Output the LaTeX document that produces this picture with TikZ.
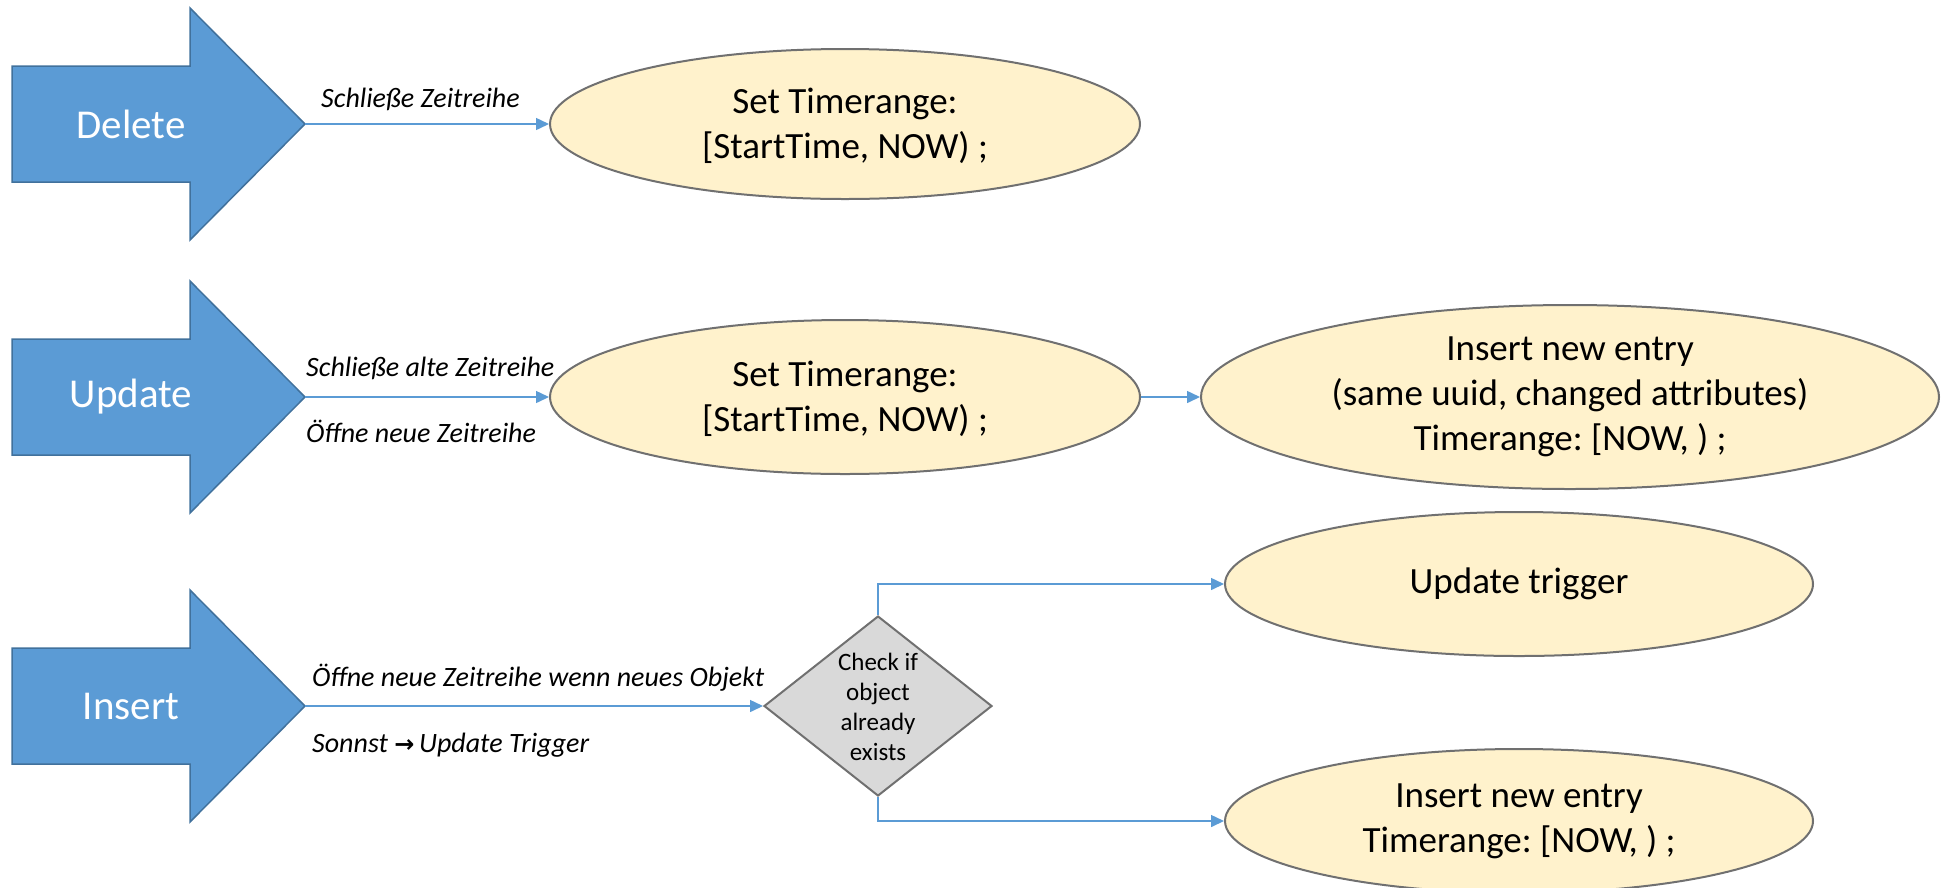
\documentclass[tikz,border=0pt]{standalone}
\usepackage{fontspec}
\setmainfont{Carlito}
\newfontfamily\symfont{DejaVu Sans}
\usetikzlibrary{shapes.geometric,arrows.meta}
\definecolor{bluefill}{HTML}{5B9BD5}
\definecolor{blueedge}{HTML}{41719C}
\definecolor{ellfill}{HTML}{FFF2CC}
\definecolor{grayedge}{HTML}{707070}
\definecolor{diafill}{HTML}{D9D9D9}
\definecolor{connblue}{HTML}{5B9BD5}
\frenchspacing
\begin{document}
\begin{tikzpicture}[x=1pt,y=-1pt,
  bigarrow/.style={fill=bluefill,draw=blueedge,line width=1.5pt,line join=miter},
  arrowtext/.style={text=white,inner sep=0pt,font=\fontsize{41}{49}\selectfont},
  ellbox/.style={ellipse,draw=grayedge,fill=ellfill,line width=2pt,inner sep=0pt},
  elltext/.style={align=center,inner sep=0pt,font=\fontsize{37}{45}\selectfont},
  lbl/.style={anchor=west,inner sep=0pt,font=\itshape\fontsize{28}{33}\selectfont},
  conn/.style={draw=connblue,line width=1.5pt,-{Triangle[length=13pt,width=12pt]}},
  chkbox/.style={diamond,draw=grayedge,fill=diafill,line width=2pt,inner sep=0pt,minimum width=228,minimum height=180,aspect=1.27},
  chktext/.style={align=center,inner sep=0pt,font=\fontsize{25}{30}\selectfont},
]
\useasboundingbox (0,0) rectangle (1942,887);

% big blue arrows
\draw[bigarrow] (12,66) -- (190,66) -- (190,8) -- (305,124) -- (190,240) -- (190,182) -- (12,182) -- cycle;
\coordinate (delTip) at (305,124);
\node[arrowtext] (delT) at (131,124) {Delete};

\draw[bigarrow] (12,339) -- (190,339) -- (190,281) -- (305,397) -- (190,513) -- (190,455) -- (12,455) -- cycle;
\coordinate (updTip) at (305,397);
\node[arrowtext] (updT) at (131,397) {Update};

\draw[bigarrow] (12,648) -- (190,648) -- (190,590) -- (305,706) -- (190,822) -- (190,764) -- (12,764) -- cycle;
\coordinate (insTip) at (305,706);
\node[arrowtext] (insT) at (131,706) {Insert};

% ellipses
\node[ellbox,minimum width=590,minimum height=150] (e1) at (845,124) {};
\node[elltext] (e1t) at (845,126) {Set Timerange:\\{[}StartTime, NOW) ;};

\node[ellbox,minimum width=590,minimum height=154] (e2) at (845,397) {};
\node[elltext] (e2t) at (845,399) {Set Timerange:\\{[}StartTime, NOW) ;};

\node[ellbox,minimum width=738,minimum height=184] (e3) at (1570,397) {};
\node[elltext] (e3t) at (e3) {Insert new entry\\(same uuid, changed attributes)\\Timerange: {[}NOW, ) ;};

\node[ellbox,minimum width=588,minimum height=144] (e4) at (1519,584) {};
\node[elltext] (e4t) at (e4) {Update trigger};

\node[ellbox,minimum width=588,minimum height=144] (e5) at (1519,821) {};
\node[elltext] (e5t) at (e5) {Insert new entry\\Timerange: {[}NOW, ) ;};

% decision
\node[chkbox] (chk) at (878,706) {};
\node[chktext] (chkt) at (878,707) {Check if\\object\\already\\exists};

% connectors
\draw[conn] (delTip) -- (e1.west);
\draw[conn] (updTip) -- (e2.west);
\draw[conn] (e2.east) -- (e3.west);
\draw[conn] (insTip) -- (chk.west);
\draw[conn] (chk.north) |- (e4.west);
\draw[conn] (chk.south) |- (e5.west);

% labels
\node[lbl] (l1) at (321,99) {Schließe Zeitreihe};
\node[lbl] (l2) at (306,368) {Schließe alte Zeitreihe};
\node[lbl] (l3) at (306,431) {Öffne neue Zeitreihe};
\node[lbl] (l4) at (312,678) {Öffne neue Zeitreihe wenn neues Objekt};
\node[lbl] (l5) at (312,745) {Sonnst {\upshape\symfont\bfseries\fontsize{24}{30}\selectfont →}\,Update Trigger};
\end{tikzpicture}
\end{document}
